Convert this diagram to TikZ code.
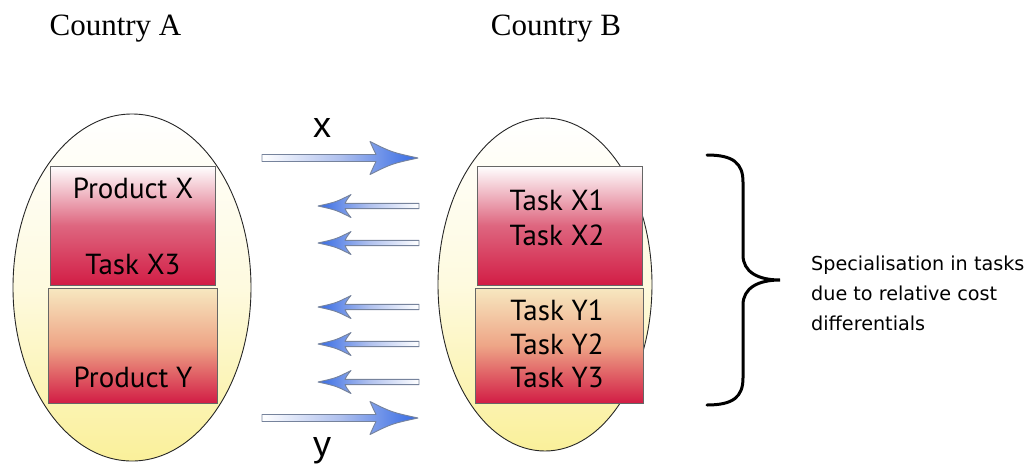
\documentclass[tikz,border=0pt]{standalone}
\usepackage{fontspec}
\setmainfont{Liberation Serif}
\newfontfamily\boxfont{PT Sans}
\newfontfamily\lblfont{Liberation Sans}
\newfontfamily\notefont{DejaVu Sans}
\usetikzlibrary{shapes.geometric}
\definecolor{boxred}{HTML}{D21D45}
\definecolor{boxpink}{HTML}{DE667F}
\definecolor{peach}{HTML}{F7E8C0}
\definecolor{peachmid}{HTML}{EEA587}
\definecolor{ellyel}{HTML}{FAF09A}
\definecolor{ellmid}{HTML}{FEFADF}
\definecolor{arrblue}{HTML}{356AE4}
\definecolor{arrmid}{HTML}{AFC0EE}
\definecolor{arredge}{HTML}{76839C}
\tikzset{
  country/.style={ellipse, draw=black!85, line width=0.9, inner sep=0, outer sep=0,
    top color=white, bottom color=ellyel, middle color=ellmid},
  redbox/.style={rectangle, draw=black!60, line width=0.8, inner sep=0, outer sep=0,
    top color=white, bottom color=boxred, middle color=boxpink},
  peachbox/.style={rectangle, draw=black!60, line width=0.8, inner sep=0, outer sep=0,
    top color=peach, bottom color=boxred, middle color=peachmid},
  boxtxt/.style={font=\boxfont\fontsize{29}{32}\selectfont, anchor=base, inner sep=0},
  title/.style={font=\fontsize{31}{36}\selectfont, anchor=base, inner sep=0},
  flowlbl/.style={font=\lblfont\fontsize{36}{40}\selectfont, anchor=base, inner sep=0},
  fatarr/.style={draw=arredge, line width=0.9, line join=round},
  bracestyle/.style={draw=black, line width=3, line cap=round},
  notetxt/.style={font=\notefont\fontsize{19.2}{30}\selectfont, align=left, anchor=west, inner sep=0}
}
% #1 name, #2 tail x, #3 tip x, #4 y, #5 shaft half, #6 head half, #7 head length, #8 shading
\newcommand\fatarrow[8]{%
  \pgfmathsetmacro\dd{ifthenelse(#3>#2,1,-1)}%
  \coordinate (#1-tail) at (#2,#4);
  \coordinate (#1-tip) at (#3,#4);
  \shadedraw[fatarr,#8]
    (#2,#4-#5) -- ({#3-(\dd)*(#7-6)},#4-#5)
    .. controls ({#3-(\dd)*(#7-4)},{#4-#5-4}) .. ({#3-(\dd)*#7},{#4-#6})
    .. controls ({#3-(\dd)*#7*0.55},{#4-#6*0.35}) .. (#3,#4)
    .. controls ({#3-(\dd)*#7*0.55},{#4+#6*0.35}) .. ({#3-(\dd)*#7},{#4+#6})
    .. controls ({#3-(\dd)*(#7-4)},{#4+#5+4}) .. ({#3-(\dd)*(#7-6)},#4+#5)
    -- (#2,#4+#5) -- cycle;
}
\begin{document}
\begin{tikzpicture}[x=1pt,y=-1pt]
\useasboundingbox (0,0) rectangle (1029,472);

% titles
\node[title] (ca) at (115.5,35) {Country A};
\node[title] (cb) at (556,35) {Country B};

% ellipses
\node[country, minimum width=238, minimum height=347] (ea) at (132,287.5) {};
\node[country, minimum width=214, minimum height=333] (eb) at (545,284.5) {};

% boxes country A
\node[redbox, minimum width=165, minimum height=119] (ax) at (132.5,225.5) {};
\node[peachbox, minimum width=169, minimum height=115] (ay) at (132.5,345.5) {};
\node[boxtxt] (t1) at (133,198) {Product X};
\node[boxtxt] (t2) at (133,274) {Task X3};
\node[boxtxt] (t3) at (133,387) {Product Y};

% boxes country B
\node[redbox, minimum width=165, minimum height=119] (bx) at (559.5,225.5) {};
\node[peachbox, minimum width=168, minimum height=115] (by) at (559,345.5) {};
\node[boxtxt] (u1) at (557,210) {Task X1};
\node[boxtxt] (u2) at (557,245) {Task X2};
\node[boxtxt] (u3) at (557,320) {Task Y1};
\node[boxtxt] (u4) at (557,354) {Task Y2};
\node[boxtxt] (u5) at (557,387) {Task Y3};

% arrows
\fatarrow{ax1}{262}{418}{158}{3.5}{16.5}{48}{left color=white, right color=arrblue, middle color=arrmid}
\fatarrow{ay1}{262}{418}{418}{3.5}{16.5}{48}{left color=white, right color=arrblue, middle color=arrmid}
\foreach \yy/\nm in {206/l1,243/l2,307/l3,344/l4,382/l5}{
  \fatarrow{\nm}{419}{318}{\yy}{2.6}{11.5}{33}{left color=arrblue, right color=white, middle color=arrmid}
}
\node[flowlbl] (lx) at (322,137.5) {x};
\node[flowlbl] (ly) at (322,456) {y};

% brace
\draw[bracestyle] (707,155) .. controls (733,155) and (743,163) .. (743,182)
  -- (743,255) .. controls (743,272) and (758,280) .. (780,280)
  .. controls (758,280) and (743,288) .. (743,305)
  -- (743,378) .. controls (743,397) and (733,405) .. (707,405);
\node[notetxt] (note) at (811,293) {Specialisation in tasks\\due to relative cost\\differentials};
\end{tikzpicture}
\end{document}
